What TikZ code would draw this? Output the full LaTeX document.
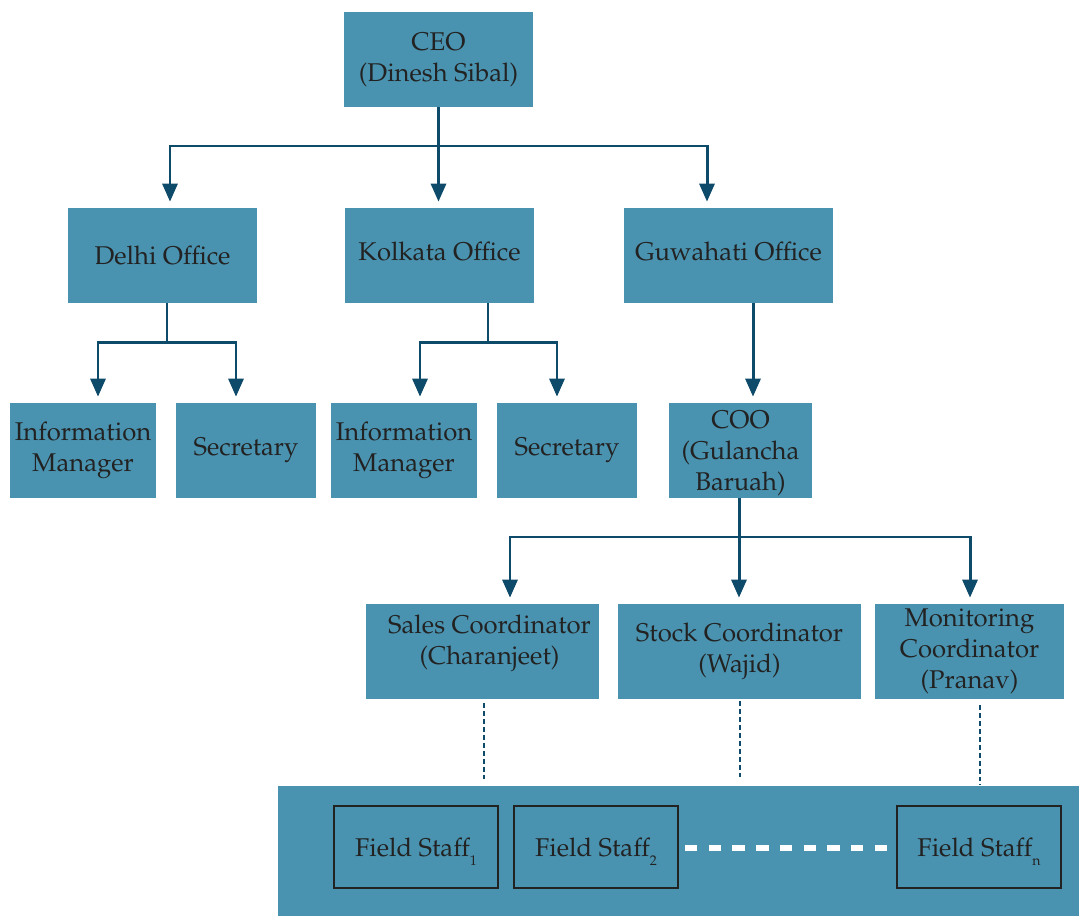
\documentclass[tikz,border=0pt]{standalone}
\usepackage[T1]{fontenc}
\usepackage{mathpazo}
\usepackage{tikz}
\usetikzlibrary{arrows.meta,calc}

\definecolor{boxblue}{HTML}{4A93B0}
\definecolor{linkblue}{HTML}{0E4A69}
\definecolor{inkgray}{HTML}{222222}

\newcommand{\staffidx}[1]{\raisebox{-0.75ex}[0pt][0pt]{\fontsize{8}{8}\selectfont #1}}

\begin{document}
\begin{tikzpicture}[x=0.02cm, y=-0.02cm,
	every node/.style={font=\fontsize{14.6}{17.6}\selectfont, text=inkgray},
	box/.style={fill=boxblue, minimum height=1.9cm, align=center, inner sep=0pt},
	boxtext/.style={align=center, inner sep=0pt},
	staffbox/.style={draw=inkgray, very thick, minimum width=3.28cm, minimum height=1.64cm, inner sep=0pt},
	arrow/.style={linkblue, line width=1.7pt, -{Triangle[width=0.3cm, length=0.36cm]}},
	link/.style={linkblue, line width=1.7pt},
	dotlink/.style={linkblue, line width=1.2pt, dash pattern=on 2.8pt off 1.7pt}]
	\useasboundingbox (0,0) rectangle (1079,916);

	% top level
	\node[box, minimum width=3.78cm] (ceo) at (438.5,59.5) {CEO\\(Dinesh Sibal)};

	\node[box, minimum width=3.78cm] (delhi) at (162.5,255.5) {Delhi Office};
	\node[box, minimum width=3.78cm] (kolkata) at (439.5,255.5) {\raisebox{4.5pt}{Kolkata Office}};
	\node[box, minimum width=4.18cm] (guwahati) at (728.5,255.5) {\raisebox{4.5pt}{Guwahati Office}};

	\node[box, minimum width=2.92cm] (info1) at (83,450.5) {Information\\Manager};
	\node[box, minimum width=2.8cm] (sec1) at (246,450.5) {Secretary};
	\node[box, minimum width=2.92cm] (info2) at (404,450.5) {Information\\Manager};
	\node[box, minimum width=2.8cm] (sec2) at (567,450.5) {Secretary};
	\node[box, minimum width=2.86cm] (coo) at (740.5,450.5) {};
	\node[boxtext] (cootext) at ($(coo)+(0,3)$) {COO\\(Gulancha\\Baruah)};

	\node[box, minimum width=4.66cm] (sales) at (482.5,651.5) {};
	\node[boxtext] (salestext) at ($(sales)+(7,-8)$) {Sales Coordinator\\(Charanjeet)};
	\node[box, minimum width=4.86cm] (stock) at (739.5,651.5) {Stock Coordinator\\(Wajid)};
	\node[box, minimum width=3.78cm] (monitor) at (969.5,651.5) {Monitoring\\Coordinator\\(Pranav)};

	% field staff band
	\node[fill=boxblue, minimum width=16.02cm, minimum height=2.6cm, inner sep=0pt] (band) at (678.5,851) {};
	\node[staffbox] (fs1) at (416,847) {Field Staff\staffidx{1}};
	\node[staffbox] (fs2) at (596,847) {Field Staff\staffidx{2}};
	\node[staffbox] (fsn) at (979,847) {Field Staff\staffidx{n}};

	% connectors
	\coordinate (ceojoin) at (ceo.south |- 0,146);
	\draw[arrow] (ceo.south) -- (ceojoin) -| ($(delhi.north)+(7.5,-6)$);
	\draw[arrow] (ceo.south) -- ($(ceo.south |- kolkata.north)+(0,-6)$);
	\draw[arrow] (ceojoin) -| ($(guwahati.north)+(-21.5,-6)$);

	\draw[arrow] ($(delhi.south)+(4.5,0)$) -- ++(0,39) -| ($(info1.north)+(15,-6)$);
	\draw[arrow] ($(delhi.south)+(4.5,0)$) -- ++(0,39) -| ($(sec1.north)+(-10,-6)$);
	\draw[arrow] ($(kolkata.south)+(48.5,0)$) -- ++(0,39) -| ($(info2.north)+(16,-6)$);
	\draw[arrow] ($(kolkata.south)+(48.5,0)$) -- ++(0,39) -| ($(sec2.north)+(-10,-6)$);
	\draw[arrow] ($(guwahati.south)+(24.5,0)$) -- ($(coo.north)+(12.5,-6)$);

	\coordinate (coojoin) at ($(coo.south |- 0,537)+(-1.5,0)$);
	\draw[link] ($(coo.south)+(-1.5,0)$) -- (coojoin);
	\draw[arrow] (coojoin) -| ($(sales.north)+(27.5,-6)$);
	\draw[arrow] (coojoin) -- ($(coojoin |- stock.north)+(0,-6)$);
	\draw[arrow] (coojoin) -| ($(monitor.north)+(0.5,-6)$);

	\draw[dotlink] ($(sales.south)+(1.5,4)$) -- ($(sales.south |- band.north)+(1.5,-5)$);
	\draw[dotlink] ($(stock.south)+(0.5,2)$) -- ($(stock.south |- band.north)+(0.5,-7)$);
	\draw[dotlink] ($(monitor.south)+(10.5,6)$) -- ($(monitor.south |- band.north)+(10.5,-1)$);

	\draw[white, line width=3.2pt, dash pattern=on 7pt off 6.5pt] ($(fs2.east)+(6,1)$) -- ($(fsn.west)+(-9,1)$);
\end{tikzpicture}
\end{document}
